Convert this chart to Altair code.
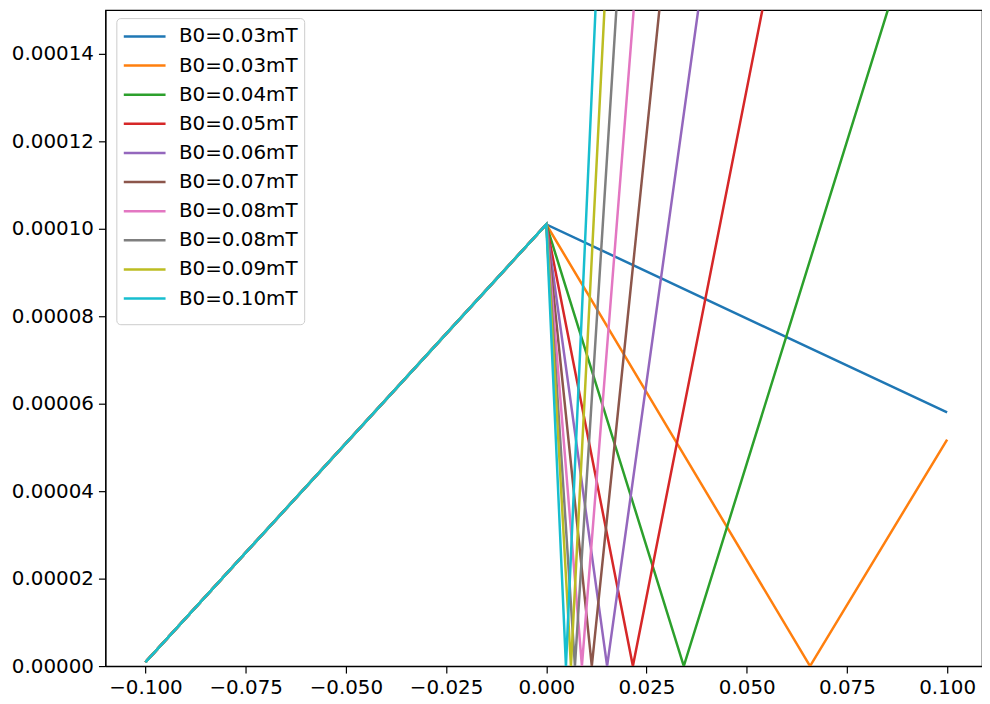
import altair as alt
import pandas as pd

# ---- data ----
series_labels = ["B0=0.03mT", "B0=0.03mT", "B0=0.04mT", "B0=0.05mT", "B0=0.06mT",
                 "B0=0.07mT", "B0=0.08mT", "B0=0.08mT", "B0=0.09mT", "B0=0.10mT"]
series_colors = ["#1f77b4", "#ff7f0e", "#2ca02c", "#d62728", "#9467bd",
                 "#8c564b", "#e377c2", "#7f7f7f", "#bcbd22", "#17becf"]

x_left, y_left = -0.1, 9e-7
x_peak, y_peak = 0.0, 1.01e-4
# x where each curve touches zero (blue does not within range)
x_zero = [None, 0.0658, 0.0343, 0.0216, 0.01517, 0.01135, 0.00888, 0.00714, 0.00615, 0.0049]
# last visible point of each curve
x_end = [0.1, 0.1, 0.0852, 0.0539, 0.0379, 0.0282, 0.0218, 0.01747, 0.0145, 0.01227]
y_end = [5.8e-5, 5.18e-5, 1.5e-4, 1.5e-4, 1.5e-4, 1.5e-4, 1.5e-4, 1.5e-4, 1.5e-4, 1.5e-4]

x_ticks = [-0.1, -0.075, -0.05, -0.025, 0.0, 0.025, 0.05, 0.075, 0.1]
y_ticks = [0.0, 0.00002, 0.00004, 0.00006, 0.00008, 0.0001, 0.00012, 0.00014]

rows = []
for i in range(len(series_labels)):
    pts = [(x_left, y_left), (x_peak, y_peak)]
    if x_zero[i] is not None:
        pts.append((x_zero[i], 0.0))
    pts.append((x_end[i], y_end[i]))
    for k, (xv, yv) in enumerate(pts):
        rows.append({"sid": str(i), "x": xv, "y": yv, "k": k})
df = pd.DataFrame(rows)

label_expr = "[" + ",".join("'" + s + "'" for s in series_labels) + "][toNumber(datum.value)]"

FONT = "DejaVu Sans"
FS = 20

chart = alt.Chart(df).mark_line(strokeWidth=2.5, clip=True).encode(
    x=alt.X("x:Q", scale=alt.Scale(domain=[-0.11, 0.1087], nice=False, zero=False),
            axis=alt.Axis(values=x_ticks, format=".3f", title=None)),
    y=alt.Y("y:Q", scale=alt.Scale(domain=[0, 0.00015], nice=False),
            axis=alt.Axis(values=y_ticks, format=".5f", title=None)),
    color=alt.Color("sid:N",
                    scale=alt.Scale(domain=[str(i) for i in range(10)], range=series_colors),
                    legend=alt.Legend(title=" ", titleOrient="bottom", titleFontSize=6,
                                      titlePadding=4,
                                      orient="none", legendX=11, legendY=8,
                                      direction="vertical", symbolType="M-1,0H2.82",
                                      symbolSize=484, symbolStrokeWidth=2.5,
                                      labelFont=FONT, labelFontSize=FS, labelColor="black",
                                      labelOffset=32,
                                      fillColor="white", strokeColor="#cccccc",
                                      cornerRadius=4, padding=6, rowPadding=6.3,
                                      labelExpr=label_expr)),
    order=alt.Order("k:Q"),
).properties(
    width=882, height=660,
    autosize=alt.AutoSizeParams(type="none"),
    padding={"left": 98, "top": 0, "right": 0, "bottom": 36},
).configure_view(
    stroke="black", strokeWidth=1.2
).configure_axis(
    grid=False, domainColor="black", tickColor="black", tickSize=7, tickWidth=1.2,
    domainWidth=1.2, labelFont=FONT, labelFontSize=FS, labelColor="black", labelPadding=5,
)

chart.save("out.html", embed_options={"renderer": "svg", "actions": False})
